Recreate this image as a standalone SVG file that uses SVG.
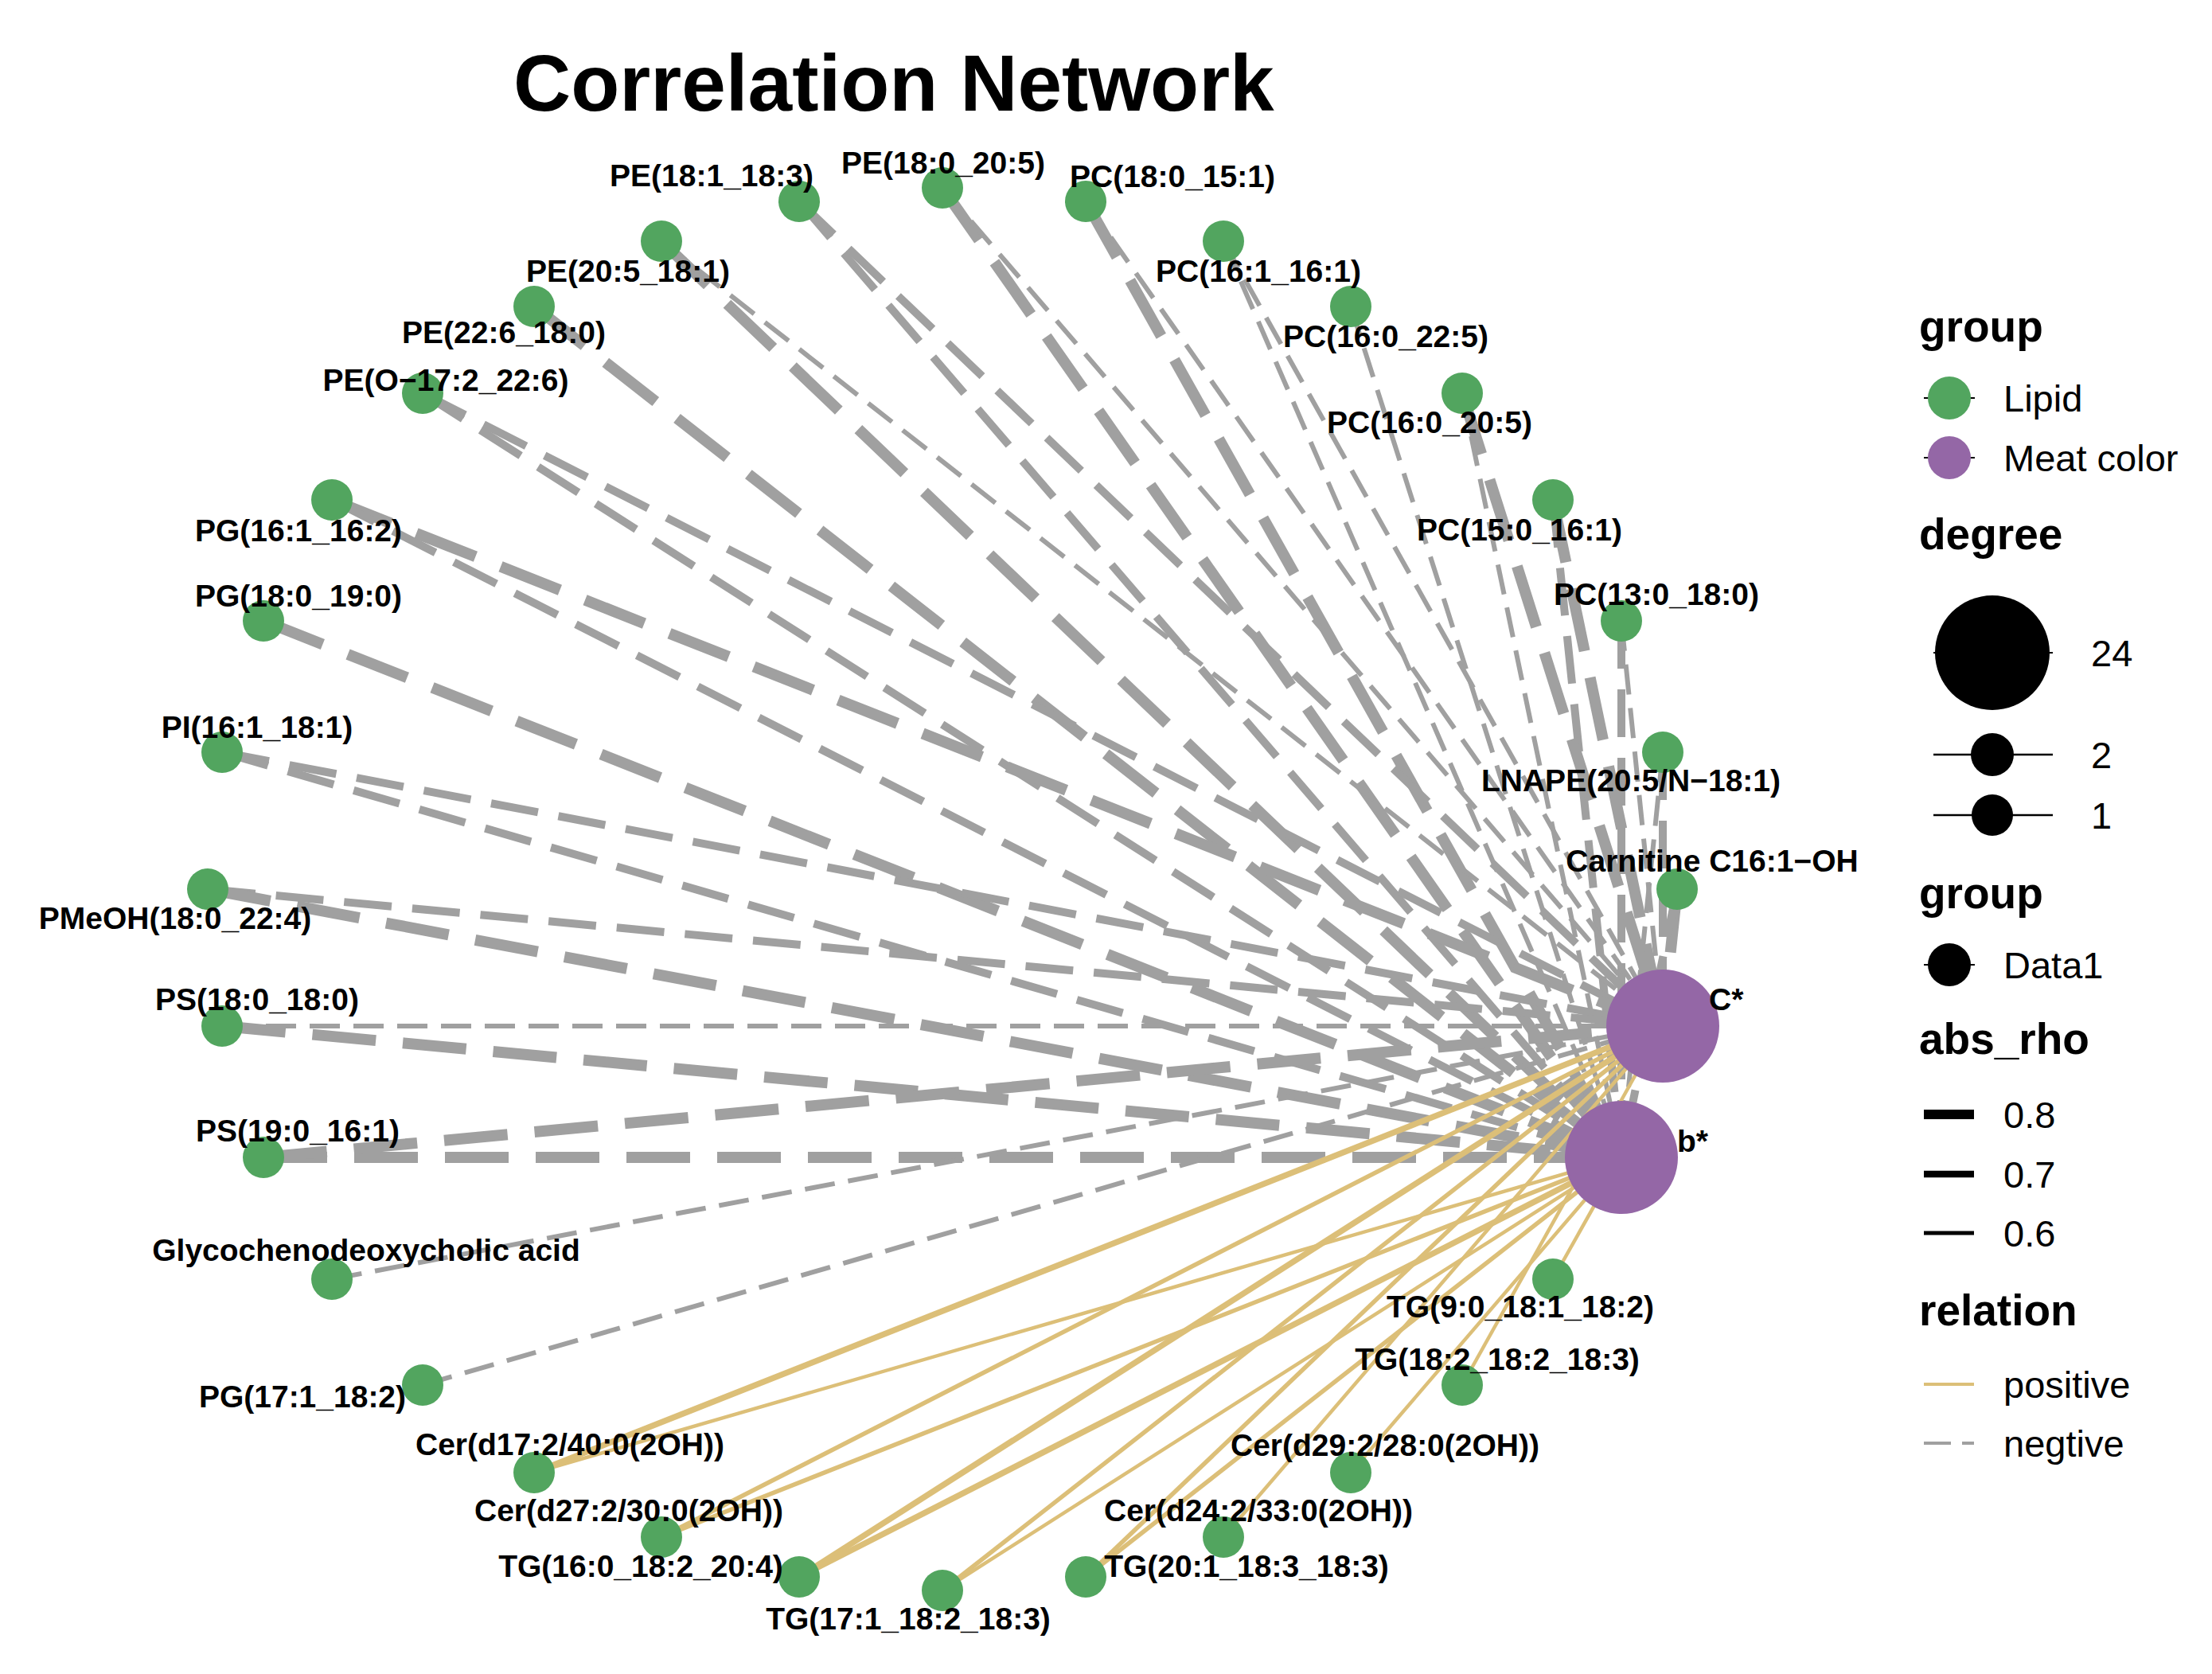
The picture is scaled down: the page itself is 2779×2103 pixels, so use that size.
<svg xmlns="http://www.w3.org/2000/svg" width="2779" height="2103" viewBox="0 0 2779 2103">
<style>
.lb{font-family:"Liberation Sans",Arial,sans-serif;font-weight:bold;font-size:39px;fill:#000;text-anchor:middle}
.lh{text-anchor:start}
.ttl{font-family:"Liberation Sans",Arial,sans-serif;font-weight:bold;font-size:100px;fill:#000}
.lgt{font-family:"Liberation Sans",Arial,sans-serif;font-weight:bold;font-size:55px;fill:#000}
.lgl{font-family:"Liberation Sans",Arial,sans-serif;font-size:47px;fill:#000}
.n{fill:#52a55f}
.h{fill:#9467a6}
.e{stroke:#a0a0a0;fill:none;stroke-linecap:butt}
.t1{stroke-width:6;stroke-dasharray:38 17}
.t2{stroke-width:10;stroke-dasharray:60 26}
.t3{stroke-width:14;stroke-dasharray:80 34}
.p{stroke:#dcbf78;fill:none}
.p1{stroke-width:4.5}
.p2{stroke-width:5.5}
.p3{stroke-width:7.5}
</style>
<rect x="0" y="0" width="2779" height="2103" fill="#ffffff"/>
<text class="ttl" x="645" y="139">Correlation Network</text>
<g id="connectors">
<line class="e t3" x1="2107" y1="1117" x2="2089" y2="1289"/>
<line class="e t2" x1="2107" y1="1117" x2="2037" y2="1454"/>
<line class="e t2" x1="2089" y1="945" x2="2089" y2="1289"/>
<line class="e t1" x1="2089" y1="945" x2="2037" y2="1454"/>
<line class="e t2" x1="2037" y1="780" x2="2037" y2="1454"/>
<line class="e t1" x1="2037" y1="780" x2="2089" y2="1289"/>
<line class="e t3" x1="1951" y1="628" x2="2089" y2="1289"/>
<line class="e t2" x1="1951" y1="628" x2="2037" y2="1454"/>
<line class="e t3" x1="1837" y1="494" x2="2089" y2="1289"/>
<line class="e t1" x1="1837" y1="494" x2="2037" y2="1454"/>
<line class="e t1" x1="1697" y1="385" x2="2037" y2="1454"/>
<line class="e t1" x1="1537" y1="303" x2="2089" y2="1289"/>
<line class="e t1" x1="1537" y1="303" x2="2037" y2="1454"/>
<line class="e t3" x1="1364" y1="253" x2="2037" y2="1454"/>
<line class="e t1" x1="1364" y1="253" x2="2089" y2="1289"/>
<line class="e t3" x1="1184" y1="236" x2="2037" y2="1454"/>
<line class="e t1" x1="1184" y1="236" x2="2089" y2="1289"/>
<line class="e t2" x1="1004" y1="253" x2="2089" y2="1289"/>
<line class="e t2" x1="1004" y1="253" x2="2037" y2="1454"/>
<line class="e t3" x1="831" y1="303" x2="2037" y2="1454"/>
<line class="e t1" x1="831" y1="303" x2="2089" y2="1289"/>
<line class="e t3" x1="671" y1="385" x2="2037" y2="1454"/>
<line class="e t2" x1="531" y1="494" x2="2089" y2="1289"/>
<line class="e t2" x1="531" y1="494" x2="2037" y2="1454"/>
<line class="e t3" x1="417" y1="628" x2="2089" y2="1289"/>
<line class="e t2" x1="417" y1="628" x2="2037" y2="1454"/>
<line class="e t3" x1="331" y1="780" x2="2037" y2="1454"/>
<line class="e t2" x1="279" y1="945" x2="2089" y2="1289"/>
<line class="e t2" x1="279" y1="945" x2="2037" y2="1454"/>
<line class="e t2" x1="261" y1="1117" x2="2089" y2="1289"/>
<line class="e t3" x1="261" y1="1117" x2="2037" y2="1454"/>
<line class="e t1" x1="279" y1="1289" x2="2089" y2="1289"/>
<line class="e t3" x1="279" y1="1289" x2="2037" y2="1454"/>
<line class="e t3" x1="331" y1="1454" x2="2037" y2="1454"/>
<line class="e t3" x1="331" y1="1454" x2="2089" y2="1289"/>
<line class="e t1" x1="417" y1="1607" x2="2089" y2="1289"/>
<line class="e t1" x1="531" y1="1740" x2="2089" y2="1289"/>
<line class="p p3" x1="671" y1="1850" x2="2089" y2="1289"/>
<line class="p p1" x1="671" y1="1850" x2="2037" y2="1454"/>
<line class="p p2" x1="831" y1="1931" x2="2089" y2="1289"/>
<line class="p p2" x1="831" y1="1931" x2="2037" y2="1454"/>
<line class="p p3" x1="1004" y1="1981" x2="2089" y2="1289"/>
<line class="p p3" x1="1004" y1="1981" x2="2037" y2="1454"/>
<line class="p p2" x1="1184" y1="1998" x2="2089" y2="1289"/>
<line class="p p1" x1="1184" y1="1998" x2="2037" y2="1454"/>
<line class="p p2" x1="1364" y1="1981" x2="2089" y2="1289"/>
<line class="p p2" x1="1364" y1="1981" x2="2037" y2="1454"/>
<line class="p p1" x1="1537" y1="1931" x2="2089" y2="1289"/>
<line class="p p1" x1="1697" y1="1850" x2="2037" y2="1454"/>
<line class="p p1" x1="1837" y1="1740" x2="2089" y2="1289"/>
<line class="p p1" x1="1951" y1="1607" x2="2037" y2="1454"/>
</g>
<g id="node-carnitine"><circle class="n" cx="2107" cy="1117" r="26"/><text class="lb" x="2151" y="1095">Carnitine C16:1−OH</text></g>
<g id="node-lnape"><circle class="n" cx="2089" cy="945" r="26"/><text class="lb" x="2049" y="994">LNAPE(20:5/N−18:1)</text></g>
<g id="node-pc13"><circle class="n" cx="2037" cy="780" r="26"/><text class="lb" x="2081" y="760">PC(13:0_18:0)</text></g>
<g id="node-pc15"><circle class="n" cx="1951" cy="628" r="26"/><text class="lb" x="1909" y="679">PC(15:0_16:1)</text></g>
<g id="node-pc16-205"><circle class="n" cx="1837" cy="494" r="26"/><text class="lb" x="1796" y="544">PC(16:0_20:5)</text></g>
<g id="node-pc16-225"><circle class="n" cx="1697" cy="385" r="26"/><text class="lb" x="1741" y="436">PC(16:0_22:5)</text></g>
<g id="node-pc161"><circle class="n" cx="1537" cy="303" r="26"/><text class="lb" x="1581" y="354">PC(16:1_16:1)</text></g>
<g id="node-pc18"><circle class="n" cx="1364" cy="253" r="26"/><text class="lb" x="1473" y="235">PC(18:0_15:1)</text></g>
<g id="node-pe18-205"><circle class="n" cx="1184" cy="236" r="26"/><text class="lb" x="1185" y="218">PE(18:0_20:5)</text></g>
<g id="node-pe181"><circle class="n" cx="1004" cy="253" r="26"/><text class="lb" x="894" y="234">PE(18:1_18:3)</text></g>
<g id="node-pe205"><circle class="n" cx="831" cy="303" r="26"/><text class="lb" x="789" y="354">PE(20:5_18:1)</text></g>
<g id="node-pe226"><circle class="n" cx="671" cy="385" r="26"/><text class="lb" x="633" y="431">PE(22:6_18:0)</text></g>
<g id="node-peo"><circle class="n" cx="531" cy="494" r="26"/><text class="lb" x="560" y="491">PE(O−17:2_22:6)</text></g>
<g id="node-pg161"><circle class="n" cx="417" cy="628" r="26"/><text class="lb" x="375" y="680">PG(16:1_16:2)</text></g>
<g id="node-pg180"><circle class="n" cx="331" cy="780" r="26"/><text class="lb" x="375" y="762">PG(18:0_19:0)</text></g>
<g id="node-pi"><circle class="n" cx="279" cy="945" r="26"/><text class="lb" x="323" y="927">PI(16:1_18:1)</text></g>
<g id="node-pmeoh"><circle class="n" cx="261" cy="1117" r="26"/><text class="lb" x="220" y="1167">PMeOH(18:0_22:4)</text></g>
<g id="node-ps180"><circle class="n" cx="279" cy="1289" r="26"/><text class="lb" x="323" y="1269">PS(18:0_18:0)</text></g>
<g id="node-ps190"><circle class="n" cx="331" cy="1454" r="26"/><text class="lb" x="374" y="1434">PS(19:0_16:1)</text></g>
<g id="node-glyco"><circle class="n" cx="417" cy="1607" r="26"/><text class="lb" x="460" y="1584">Glycochenodeoxycholic acid</text></g>
<g id="node-pg171"><circle class="n" cx="531" cy="1740" r="26"/><text class="lb" x="380" y="1768">PG(17:1_18:2)</text></g>
<g id="node-cer17"><circle class="n" cx="671" cy="1850" r="26"/><text class="lb" x="716" y="1828">Cer(d17:2/40:0(2OH))</text></g>
<g id="node-cer27"><circle class="n" cx="831" cy="1931" r="26"/><text class="lb" x="790" y="1911">Cer(d27:2/30:0(2OH))</text></g>
<g id="node-tg160"><circle class="n" cx="1004" cy="1981" r="26"/><text class="lb" x="805" y="1981">TG(16:0_18:2_20:4)</text></g>
<g id="node-tg171"><circle class="n" cx="1184" cy="1998" r="26"/><text class="lb" x="1141" y="2047">TG(17:1_18:2_18:3)</text></g>
<g id="node-tg201"><circle class="n" cx="1364" cy="1981" r="26"/><text class="lb" x="1566" y="1981">TG(20:1_18:3_18:3)</text></g>
<g id="node-cer24"><circle class="n" cx="1537" cy="1931" r="26"/><text class="lb" x="1581" y="1911">Cer(d24:2/33:0(2OH))</text></g>
<g id="node-cer29"><circle class="n" cx="1697" cy="1850" r="26"/><text class="lb" x="1740" y="1829">Cer(d29:2/28:0(2OH))</text></g>
<g id="node-tg182"><circle class="n" cx="1837" cy="1740" r="26"/><text class="lb" x="1881" y="1721">TG(18:2_18:2_18:3)</text></g>
<g id="node-tg90"><circle class="n" cx="1951" cy="1607" r="26"/><text class="lb" x="1910" y="1655">TG(9:0_18:1_18:2)</text></g>
<g id="node-cstar"><circle class="h" cx="2089" cy="1289" r="71"/><text class="lb lh" x="2147" y="1269">C*</text></g>
<g id="node-bstar"><circle class="h" cx="2037" cy="1454" r="71"/><text class="lb lh" x="2107" y="1447">b*</text></g>
<g id="legend">
<text class="lgt" x="2411" y="429">group</text>
<line x1="2417" y1="500" x2="2481" y2="500" stroke="#000" stroke-width="2"/>
<circle class="n" cx="2449" cy="500" r="27"/>
<text class="lgl" x="2517" y="517">Lipid</text>
<line x1="2417" y1="575" x2="2481" y2="575" stroke="#000" stroke-width="2"/>
<circle class="h" cx="2449" cy="575" r="27"/>
<text class="lgl" x="2517" y="592">Meat color</text>
<text class="lgt" x="2411" y="690">degree</text>
<line x1="2429" y1="820" x2="2579" y2="820" stroke="#000" stroke-width="2"/>
<circle cx="2503" cy="820" r="72" fill="#000"/>
<text class="lgl" x="2627" y="837">24</text>
<line x1="2429" y1="948" x2="2579" y2="948" stroke="#000" stroke-width="2.5"/>
<circle cx="2503" cy="948" r="27" fill="#000"/>
<text class="lgl" x="2627" y="965">2</text>
<line x1="2429" y1="1024" x2="2579" y2="1024" stroke="#000" stroke-width="2.5"/>
<circle cx="2503" cy="1024" r="26" fill="#000"/>
<text class="lgl" x="2627" y="1041">1</text>
<text class="lgt" x="2411" y="1141">group</text>
<line x1="2417" y1="1212" x2="2481" y2="1212" stroke="#000" stroke-width="2"/>
<circle cx="2449" cy="1212" r="27" fill="#000"/>
<text class="lgl" x="2517" y="1229">Data1</text>
<text class="lgt" x="2411" y="1324">abs_rho</text>
<line x1="2417" y1="1400" x2="2480" y2="1400" stroke="#000" stroke-width="12"/>
<text class="lgl" x="2517" y="1417">0.8</text>
<line x1="2417" y1="1475" x2="2480" y2="1475" stroke="#000" stroke-width="8.5"/>
<text class="lgl" x="2517" y="1492">0.7</text>
<line x1="2417" y1="1549" x2="2480" y2="1549" stroke="#000" stroke-width="5"/>
<text class="lgl" x="2517" y="1566">0.6</text>
<text class="lgt" x="2411" y="1665">relation</text>
<line x1="2417" y1="1739" x2="2480" y2="1739" stroke="#dcbf78" stroke-width="4"/>
<text class="lgl" x="2517" y="1756">positive</text>
<line x1="2417" y1="1813" x2="2480" y2="1813" stroke="#a0a0a0" stroke-width="4" stroke-dasharray="34 14"/>
<text class="lgl" x="2517" y="1830">negtive</text>
</g>
</svg>
